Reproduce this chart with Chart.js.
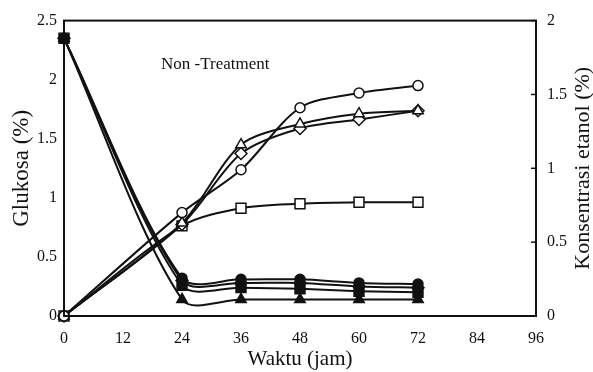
<!DOCTYPE html>
<html>
<head>
<meta charset="utf-8">
<script src="https://cdn.jsdelivr.net/npm/chart.js@4.4.1/dist/chart.umd.min.js"></script>
<style>
  html, body { margin: 0; padding: 0; background: #fff; }
  #wrap { width: 593px; height: 372px; position: relative; }
</style>
</head>
<body>
<div id="wrap"><canvas id="chartGlukosa" width="593" height="372"></canvas></div>
<script>
  // waktu fermentasi (jam)
  var waktu = [0, 24, 36, 48, 60, 72];
  var xTicks = [0, 12, 24, 36, 48, 60, 72, 84, 96];
  var yKiriTicks = [0, 0.5, 1, 1.5, 2, 2.5];
  var yKananTicks = [0, 0.5, 1, 1.5, 2];

  // glukosa (%), penanda terisi
  var glukosaBulat = [2.35, 0.32, 0.31, 0.31, 0.28, 0.27];
  var glukosaBelah = [2.35, 0.30, 0.28, 0.28, 0.25, 0.24];
  var glukosaKotak = [2.35, 0.26, 0.24, 0.23, 0.21, 0.20];
  var glukosaSegitiga = [2.35, 0.14, 0.14, 0.14, 0.14, 0.14];

  // konsentrasi etanol (%), penanda kosong
  var etanolBulat = [0, 0.70, 0.99, 1.41, 1.51, 1.56];
  var etanolSegitiga = [0, 0.63, 1.16, 1.30, 1.37, 1.39];
  var etanolBelah = [0, 0.62, 1.10, 1.27, 1.33, 1.39];
  var etanolKotak = [0, 0.61, 0.73, 0.76, 0.77, 0.77];

  var ink = "#111";
  var serif = "'Liberation Serif', 'Times New Roman', serif";

  function pts(values) {
    return values.map(function (v, i) { return { x: waktu[i], y: v }; });
  }

  function series(values, axis, style, filled, radius) {
    return {
      data: pts(values),
      yAxisID: axis,
      borderColor: ink,
      borderWidth: 2,
      tension: 0.3,
      clip: false,
      pointStyle: style,
      pointRadius: radius,
      pointBorderWidth: 1.5,
      pointBorderColor: ink,
      pointBackgroundColor: filled ? ink : "#fff",
    };
  }

  function plain(v) { return String(v); }

  var framePlugin = {
    id: "frame",
    afterDraw: function (chart) {
      var ctx = chart.ctx;
      var a = chart.chartArea;
      var yR = chart.scales.yR;
      ctx.save();
      ctx.strokeStyle = ink;
      ctx.lineWidth = 2;
      ctx.strokeRect(a.left, a.top, a.right - a.left, a.bottom - a.top);
      // tick ke dalam pada sumbu kanan
      ctx.lineWidth = 1.5;
      yKananTicks.forEach(function (v) {
        var y = yR.getPixelForValue(v);
        ctx.beginPath();
        ctx.moveTo(a.right, y);
        ctx.lineTo(a.right - 5, y);
        ctx.stroke();
      });
      ctx.fillStyle = ink;
      ctx.font = "17px " + serif;
      ctx.textAlign = "left";
      ctx.textBaseline = "alphabetic";
      ctx.fillText("Non -Treatment", 161, 69);
      ctx.font = "22px " + serif;
      ctx.textAlign = "center";
      ctx.textBaseline = "middle";
      ctx.translate(583, (a.top + a.bottom) / 2);
      ctx.rotate(-Math.PI / 2);
      ctx.fillText("Konsentrasi etanol (%)", 0, 0);
      ctx.restore();
    },
  };

  new Chart(document.getElementById("chartGlukosa"), {
    type: "line",
    data: {
      datasets: [
        series(glukosaBulat, "yL", "circle", true, 5),
        series(glukosaBelah, "yL", "rectRot", true, 6),
        series(glukosaKotak, "yL", "rect", true, 7),
        series(glukosaSegitiga, "yL", "triangle", true, 6),
        series(etanolBulat, "yR", "circle", false, 5),
        series(etanolSegitiga, "yR", "triangle", false, 6),
        series(etanolBelah, "yR", "rectRot", false, 6),
        series(etanolKotak, "yR", "rect", false, 7),
      ],
    },
    options: {
      responsive: false,
      animation: false,
      layout: { padding: { top: 16, left: 0, right: 0, bottom: 0 } },
      plugins: { legend: { display: false }, tooltip: { enabled: false } },
      scales: {
        x: {
          type: "linear",
          min: 0,
          max: 96,
          afterBuildTicks: function (s) { s.ticks = xTicks.map(function (v) { return { value: v }; }); },
          afterFit: function (s) { s.height = 56; },
          grid: { display: false, drawTicks: false },
          border: { display: true, color: ink, width: 2 },
          ticks: { padding: 13, color: ink, font: { family: serif, size: 16 }, callback: plain },
          title: {
            display: true,
            text: "Waktu (jam)",
            color: ink,
            font: { family: serif, size: 21 },
            padding: { top: 0, bottom: 0 },
          },
        },
        yL: {
          position: "left",
          min: 0,
          max: 2.5,
          afterBuildTicks: function (s) { s.ticks = yKiriTicks.map(function (v) { return { value: v }; }); },
          afterFit: function (s) { s.width = 64; },
          grid: { display: false, drawTicks: false },
          border: { display: true, color: ink, width: 2 },
          ticks: { padding: 7, color: ink, font: { family: serif, size: 16 }, callback: plain },
          title: {
            display: true,
            text: "Glukosa (%)",
            color: ink,
            font: { family: serif, size: 23 },
            padding: { top: 8, bottom: 0 },
          },
        },
        yR: {
          position: "right",
          min: 0,
          max: 2,
          afterBuildTicks: function (s) { s.ticks = yKananTicks.map(function (v) { return { value: v }; }); },
          afterFit: function (s) { s.width = 57; },
          grid: { display: false, drawTicks: false },
          border: { display: true, color: ink, width: 2 },
          ticks: { padding: 11, color: ink, font: { family: serif, size: 16 }, callback: plain },
        },
      },
    },
    plugins: [framePlugin],
  });
</script>
</body>
</html>
